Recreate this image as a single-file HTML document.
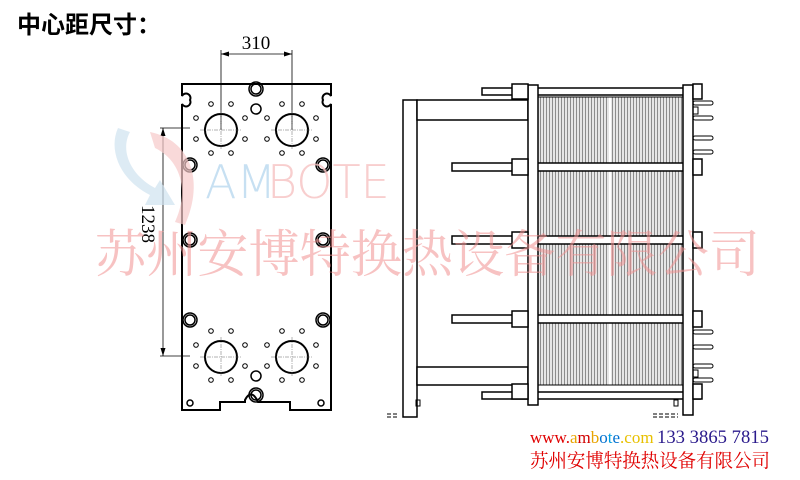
<!DOCTYPE html>
<html><head><meta charset="utf-8"><style>
body{margin:0;background:#fff;}
svg{display:block;}
</style></head><body>
<svg width="800" height="480" viewBox="0 0 800 480" xmlns="http://www.w3.org/2000/svg">
<defs>
<pattern id="pl" width="3" height="10" patternUnits="userSpaceOnUse">
<rect width="3" height="10" fill="#e6e6e6"/><rect x="0" width="1" height="10" fill="#8c8c8c"/>
</pattern>
</defs>
<rect width="800" height="480" fill="#fff"/>
<text x="17" y="33" font-family="'Noto Sans CJK SC',sans-serif" font-size="24" font-weight="bold" fill="#000">中心距尺寸：</text>

<g stroke="#000" fill="none">
<path d="M182,84 H331 V96 A4,4 0 0 0 323,100 A4,4 0 0 0 331,104 V410 H290 V402 H258 C255,395 250,390 245,400 V402 H220 V410 H182 V104 A4,4 0 0 0 190,100 A4,4 0 0 0 182,96 Z" stroke-width="2"/>
<g stroke-width="0.8">
<line x1="221" y1="50" x2="221" y2="130"/><line x1="292" y1="50" x2="292" y2="130"/>
<line x1="221" y1="54" x2="292" y2="54"/>
<line x1="160" y1="128" x2="190" y2="128"/><line x1="160" y1="356" x2="190" y2="356"/>
<line x1="163" y1="128" x2="163" y2="356"/>
</g>
<g stroke-width="2">
<circle cx="221" cy="130" r="16"/><circle cx="292" cy="130" r="16"/>
<circle cx="221" cy="357" r="16"/><circle cx="292" cy="357" r="16"/>
</g>
<g stroke-width="0.5" stroke="#666" stroke-dasharray="4,1,1,1">
<line x1="200" y1="130" x2="242" y2="130"/><line x1="221" y1="110" x2="221" y2="150"/>
<line x1="271" y1="130" x2="313" y2="130"/><line x1="292" y1="110" x2="292" y2="150"/>
<line x1="200" y1="357" x2="242" y2="357"/><line x1="221" y1="337" x2="221" y2="377"/>
<line x1="271" y1="357" x2="313" y2="357"/><line x1="292" y1="337" x2="292" y2="377"/>
</g>
<g stroke-width="1.5">
<circle cx="190" cy="165" r="7"/><circle cx="190" cy="165" r="5"/>
<circle cx="190" cy="240" r="7"/><circle cx="190" cy="240" r="5"/>
<circle cx="190" cy="320" r="7"/><circle cx="190" cy="320" r="5"/>
<circle cx="323" cy="165" r="7"/><circle cx="323" cy="165" r="5"/>
<circle cx="323" cy="240" r="7"/><circle cx="323" cy="240" r="5"/>
<circle cx="323" cy="320" r="7"/><circle cx="323" cy="320" r="5"/>
<circle cx="256" cy="89" r="7"/><circle cx="256" cy="89" r="5"/>
<circle cx="256" cy="109" r="5"/>
<circle cx="256" cy="376" r="5"/>
<circle cx="256" cy="395" r="7"/><circle cx="256" cy="395" r="5"/>
<circle cx="190" cy="403" r="3"/><circle cx="321" cy="403" r="3"/>
</g>
<g stroke-width="1">
<circle cx="211" cy="104" r="2.3"/><circle cx="231" cy="104" r="2.3"/><circle cx="196" cy="118" r="2.3"/><circle cx="196" cy="139" r="2.3"/><circle cx="245" cy="118" r="2.3"/><circle cx="245" cy="139" r="2.3"/><circle cx="211" cy="153" r="2.3"/><circle cx="231" cy="153" r="2.3"/>
<circle cx="282" cy="104" r="2.3"/><circle cx="302" cy="104" r="2.3"/><circle cx="267" cy="118" r="2.3"/><circle cx="267" cy="139" r="2.3"/><circle cx="316" cy="118" r="2.3"/><circle cx="316" cy="139" r="2.3"/><circle cx="282" cy="153" r="2.3"/><circle cx="302" cy="153" r="2.3"/>
<circle cx="211" cy="331" r="2.3"/><circle cx="231" cy="331" r="2.3"/><circle cx="196" cy="345" r="2.3"/><circle cx="196" cy="366" r="2.3"/><circle cx="245" cy="345" r="2.3"/><circle cx="245" cy="366" r="2.3"/><circle cx="211" cy="380" r="2.3"/><circle cx="231" cy="380" r="2.3"/>
<circle cx="282" cy="331" r="2.3"/><circle cx="302" cy="331" r="2.3"/><circle cx="267" cy="345" r="2.3"/><circle cx="267" cy="366" r="2.3"/><circle cx="316" cy="345" r="2.3"/><circle cx="316" cy="366" r="2.3"/><circle cx="282" cy="380" r="2.3"/><circle cx="302" cy="380" r="2.3"/>
</g>
</g>
<g fill="#000">
<path d="M221,54 l8,-2.5 v5 z M292,54 l-8,-2.5 v5 z M163,128 l-2.5,8 h5 z M163,356 l-2.5,-8 h5 z"/>
</g>
<text x="256" y="49" text-anchor="middle" font-family="'Liberation Serif',serif" font-size="19">310</text>
<text transform="translate(142,224) rotate(90)" text-anchor="middle" font-family="'Liberation Serif',serif" font-size="19">1238</text>

<rect x="538" y="97" width="145" height="288" fill="url(#pl)"/>
<line x1="610" y1="92" x2="610" y2="390" stroke="#fff" stroke-width="2"/>
<g stroke="#000" fill="none" stroke-width="1.5">
<rect x="538" y="97" width="145" height="288" stroke-width="1"/>
<rect x="403" y="100" width="14" height="317" fill="#fff"/>
<rect x="417" y="100" width="111" height="20" fill="#fff"/>
<rect x="417" y="367" width="111" height="18" fill="#fff"/>
<rect x="482" y="88" width="218" height="7" fill="#fff"/>
<rect x="482" y="392" width="218" height="7" fill="#fff"/>
<rect x="452" y="163" width="248" height="8" fill="#fff"/>
<rect x="452" y="236" width="248" height="8" fill="#fff"/>
<rect x="452" y="315" width="248" height="8" fill="#fff"/>
<rect x="528" y="85" width="10" height="320" fill="#fff"/>
<rect x="683" y="85" width="10" height="330" fill="#fff"/>
<rect x="512" y="84" width="16" height="15" fill="#fff"/><rect x="512" y="384" width="16" height="15" fill="#fff"/>
<rect x="512" y="159" width="16" height="16" fill="#fff"/><rect x="512" y="232" width="16" height="16" fill="#fff"/><rect x="512" y="311" width="16" height="16" fill="#fff"/>
<rect x="693" y="84" width="9" height="15" fill="#fff"/><rect x="693" y="384" width="9" height="15" fill="#fff"/>
<rect x="693" y="159" width="9" height="16" fill="#fff"/><rect x="693" y="232" width="9" height="16" fill="#fff"/><rect x="693" y="311" width="9" height="16" fill="#fff"/>
<g stroke-width="1">
<rect x="693" y="101" width="20" height="4" rx="2"/><rect x="693" y="116" width="20" height="4" rx="2"/><rect x="693" y="136" width="20" height="4" rx="2"/><rect x="693" y="150" width="20" height="4" rx="2"/>
<rect x="693" y="330" width="20" height="4" rx="2"/><rect x="693" y="345" width="20" height="4" rx="2"/><rect x="693" y="364" width="20" height="4" rx="2"/><rect x="693" y="378" width="20" height="4" rx="2"/>
<rect x="693" y="107" width="5" height="7"/><rect x="693" y="370" width="5" height="7"/>
<rect x="416" y="400" width="4" height="6"/><rect x="674" y="400" width="4" height="6"/>
</g>
<path d="M387,414 h12 M387,417 h12 M653,414 h25 M653,417 h25" stroke-width="1" stroke-dasharray="4,2"/>
</g>

<!-- watermark on top -->
<path d="M118,128 C108,150 120,180 150,195 L145,205 L175,205 L160,180 L155,188 C130,175 120,150 130,132 Z" fill="#cfe3f0" opacity="0.7"/>
<path d="M150,132 C190,140 205,180 185,225 L175,222 C190,190 180,160 155,148 Z" fill="#f6c9c9" opacity="0.7"/>
<text x="205" y="198" font-family="'DejaVu Sans',sans-serif" font-size="46" font-weight="200" fill="#b9d8ef" fill-opacity="0.8">AM</text>
<text x="267" y="198" font-family="'DejaVu Sans',sans-serif" font-size="46" font-weight="200" fill="#f6c2c2" fill-opacity="0.8">BOTE</text>
<text x="95" y="272" font-family="'Noto Serif CJK SC',serif" font-size="51" fill="#f09090" fill-opacity="0.55" textLength="665" lengthAdjust="spacingAndGlyphs">苏州安博特换热设备有限公司</text>

<text y="443" font-family="'Liberation Serif',serif" font-size="17"><tspan x="530" fill="#e00000">www.</tspan><tspan fill="#e8a400">a</tspan><tspan fill="#d00000">m</tspan><tspan fill="#e8a400">b</tspan><tspan fill="#0070d0">o</tspan><tspan fill="#00a0e0">t</tspan><tspan fill="#0070d0">e</tspan><tspan fill="#e8c000">.com</tspan></text>
<text x="657" y="443" font-family="'Liberation Serif',serif" font-size="19" fill="#2a1a8c" textLength="112" lengthAdjust="spacingAndGlyphs">133 3865 7815</text>
<text x="530" y="467" font-family="'Noto Serif CJK SC',serif" font-size="19" fill="#e00000" textLength="240" lengthAdjust="spacingAndGlyphs">苏州安博特换热设备有限公司</text>
</svg>
</body></html>
